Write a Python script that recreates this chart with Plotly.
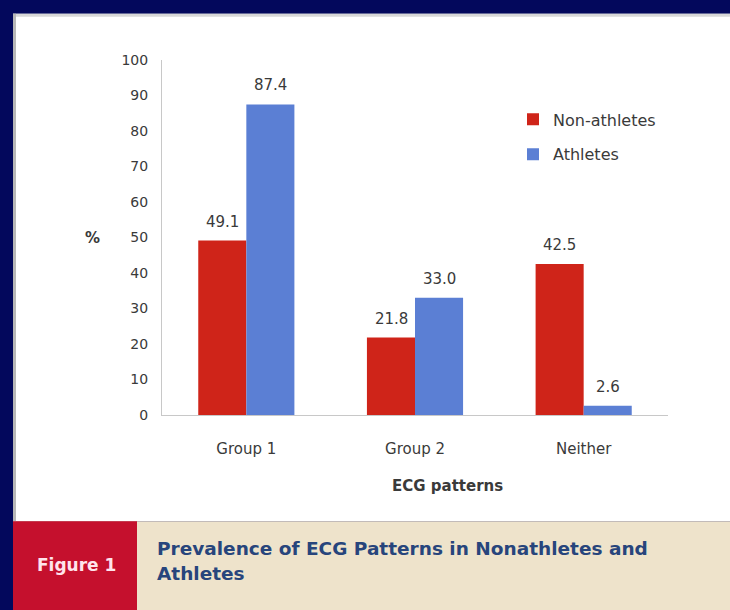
import plotly.graph_objects as go

# Prevalence of ECG patterns (%)
categories = ["Group 1", "Group 2", "Neither"]
non_athletes = [49.1, 21.8, 42.5]
athletes = [87.4, 33.0, 2.6]
y_ticks = [0, 10, 20, 30, 40, 50, 60, 70, 80, 90, 100]

W, H = 730, 610
NAVY = "#03085c"
RED = "#cf2419"
BLUE = "#5b7fd4"
TXT = "#3a3a3a"
FONT = "DejaVu Sans"
BAR_HALF = 24  # pixel offset of each bar centre from its category centre


def px_x(x):
    return x / W


def px_y(y):
    return 1 - y / H


fig = go.Figure()
fig.add_trace(go.Bar(
    name="Non-athletes", x=categories, y=non_athletes,
    marker=dict(color=RED, line=dict(width=0)),
    legendgroup="a",
))
fig.add_trace(go.Bar(
    name="Athletes", x=categories, y=athletes,
    marker=dict(color=BLUE, line=dict(width=0)),
    legendgroup="b",
))

shapes = [
    # white panel
    dict(type="rect", xref="paper", yref="paper", layer="below",
         x0=px_x(13), x1=1.02, y0=px_y(527), y1=px_y(6),
         fillcolor="white", line=dict(width=0)),
    # thin grey shading along the panel's top and left edges
    dict(type="rect", xref="paper", yref="paper", layer="below",
         x0=px_x(13), x1=1.02, y0=px_y(9), y1=px_y(6),
         fillcolor="#d8d8d8", line=dict(width=0)),
    dict(type="rect", xref="paper", yref="paper", layer="below",
         x0=px_x(13), x1=px_x(16), y0=px_y(527), y1=px_y(6),
         fillcolor="#b8b8b8", line=dict(width=0)),
    # caption band
    dict(type="rect", xref="paper", yref="paper", layer="below",
         x0=px_x(13), x1=1.02, y0=-0.02, y1=px_y(527),
         fillcolor="#eee3cb", line=dict(width=0)),
    dict(type="rect", xref="paper", yref="paper", layer="below",
         x0=px_x(13), x1=px_x(137), y0=-0.02, y1=px_y(527),
         fillcolor="#c5102d", line=dict(width=0)),
]

annotations = []
# value labels above each bar
for values, shift in ((non_athletes, -BAR_HALF), (athletes, BAR_HALF)):
    for cat, v in zip(categories, values):
        annotations.append(dict(
            text=f"{v:.1f}", x=cat, y=v, xref="x", yref="y",
            xshift=shift, yshift=19, xanchor="center", yanchor="middle",
            showarrow=False, font=dict(size=15, color=TXT, family=FONT)))

caption_font = dict(size=18.5, color="#27457c", family=FONT)
annotations += [
    dict(text="<b>%</b>", x=px_x(92), y=px_y(236), xref="paper", yref="paper",
         xanchor="center", yanchor="middle",
         showarrow=False, font=dict(size=15, color=TXT, family=FONT)),
    dict(text="<b>ECG patterns</b>", x=px_x(447), y=px_y(491), xref="paper", yref="paper",
         xanchor="center", yanchor="middle",
         showarrow=False, font=dict(size=15, color=TXT, family=FONT)),
    dict(text="<b>Figure 1</b>", x=px_x(76), y=px_y(572), xref="paper", yref="paper",
         xanchor="center", yanchor="middle",
         showarrow=False, font=dict(size=17, color="#ffe4ec", family=FONT)),
    dict(text="<b>Prevalence of ECG Patterns in Nonathletes and</b>",
         x=px_x(155), y=px_y(555), xref="paper", yref="paper",
         xanchor="left", yanchor="middle", align="left", showarrow=False,
         font=caption_font),
    dict(text="<b>Athletes</b>",
         x=px_x(155), y=px_y(581), xref="paper", yref="paper",
         xanchor="left", yanchor="middle", align="left", showarrow=False,
         font=caption_font),
]

fig.update_layout(
    width=W, height=H,
    margin=dict(l=0, r=0, t=0, b=0),
    paper_bgcolor=NAVY, plot_bgcolor="white",
    barmode="group", bargap=0.43, bargroupgap=0.0,
    font=dict(family=FONT, color=TXT, size=12),
    showlegend=True,
    legend=dict(x=px_x(513), y=px_y(97), xanchor="left", yanchor="top",
                bgcolor="rgba(0,0,0,0)", tracegroupgap=11, itemwidth=30,
                font=dict(size=16, color=TXT, family=FONT)),
    xaxis=dict(domain=[px_x(162), px_x(668)], showline=True, linecolor="#c8c8c8",
               linewidth=1, ticks="", tickfont=dict(size=15, color=TXT, family=FONT),
               showgrid=False, fixedrange=True, ticklabelstandoff=20),
    yaxis=dict(domain=[px_y(418), px_y(53)], range=[0, 100], tickvals=y_ticks,
               showline=True, linecolor="#c8c8c8", linewidth=1, showgrid=False,
               zeroline=False, ticks="", tickfont=dict(size=14, color=TXT, family=FONT),
               ticklabelstandoff=10, fixedrange=True),
    shapes=shapes, annotations=annotations,
)

fig.write_html("out.html")
